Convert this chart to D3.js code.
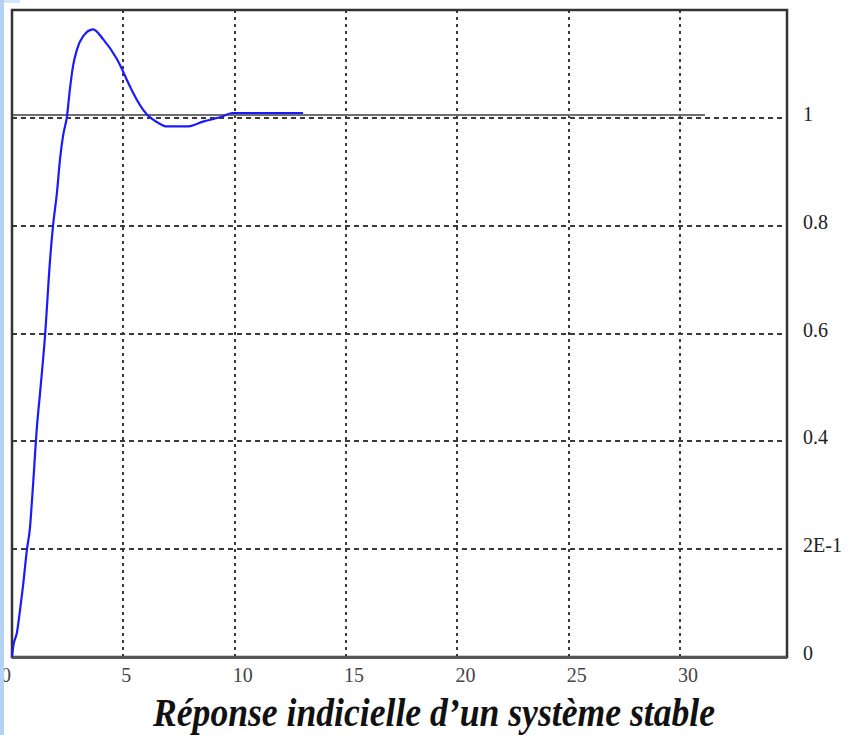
<!DOCTYPE html>
<html>
<head>
<meta charset="utf-8">
<script src="https://cdn.jsdelivr.net/npm/d3@7"></script>
<style>
  body { margin: 0; background: #fff; }
  svg { display: block; }
</style>
</head>
<body>
<div id="chart"></div>
<script>
// Step response (time, output)
var time = [0, 0.05, 0.22, 0.36, 0.49, 0.67, 0.81, 0.9, 0.94, 1.12, 1.26, 1.48, 1.71, 1.84, 2.02, 2.16, 2.29, 2.47,
            2.6, 2.74, 2.92, 3.19, 3.64, 4.09, 4.71, 5.3, 5.43, 6.06, 6.51, 6.96, 7.86, 8.58, 9.34, 9.9, 13.07];
var response = [0, 0.019, 0.045, 0.087, 0.13, 0.199, 0.241, 0.292, 0.316, 0.427, 0.49, 0.594, 0.737, 0.799, 0.862, 0.925, 0.966, 1.003,
                1.053, 1.096, 1.127, 1.151, 1.164, 1.146, 1.109, 1.058, 1.047, 1.006, 0.992, 0.984, 0.984, 0.993, 1.001, 1.009, 1.009];

// setpoint line
var setpointTime = [0, 31.1];
var setpointValue = [1.005, 1.005];

var xTicks = [0, 5, 10, 15, 20, 25, 30];
var yTicks = [0, 0.2, 0.4, 0.6, 0.8, 1];
var yTickLabels = ["0", "2E-1", "0.4", "0.6", "0.8", "1"];
var title = "Réponse indicielle d\u2019un système stable";

var width = 851, height = 735;

var svg = d3.select("#chart")
            .append("svg")
            .attr("width", width)
            .attr("height", height);

var x = d3.scaleLinear().domain([0, 34.8]).range([12, 787]);
var y = d3.scaleLinear().domain([0, 1.2]).range([657, 10]);

// vertical grid
svg.append("g")
   .selectAll("line")
   .data(xTicks.filter(function(d) { return d > 0; }))
   .enter()
   .append("line")
   .attr("x1", function(d) { return Math.round(x(d)); })
   .attr("x2", function(d) { return Math.round(x(d)); })
   .attr("y1", y(1.2))
   .attr("y2", y(0))
   .attr("stroke", "#3a3a3a")
   .attr("stroke-width", 2)
   .attr("shape-rendering", "crispEdges")
   .attr("stroke-dasharray", "3,4");

// setpoint line (under the dashes)
svg.append("path")
   .datum(setpointTime.map(function(t, i) { return [t, setpointValue[i]]; }))
   .attr("fill", "none")
   .attr("stroke", "#6f6f6f")
   .attr("stroke-width", 2)
   .attr("shape-rendering", "crispEdges")
   .attr("d", d3.line()
                .x(function(d) { return x(d[0]); })
                .y(function(d) { return Math.round(y(d[1])); }));

// horizontal grid
svg.append("g")
   .selectAll("line")
   .data(yTicks.filter(function(d) { return d > 0; }))
   .enter()
   .append("line")
   .attr("x1", x(0))
   .attr("x2", x(34.8))
   .attr("y1", function(d) { return Math.round(y(d)); })
   .attr("y2", function(d) { return Math.round(y(d)); })
   .attr("stroke", "#3a3a3a")
   .attr("stroke-width", 2)
   .attr("shape-rendering", "crispEdges")
   .attr("stroke-dasharray", "5,4");

// frame
svg.append("rect")
   .attr("x", x(0))
   .attr("y", y(1.2))
   .attr("width", x(34.8) - x(0))
   .attr("height", y(0) - y(1.2))
   .attr("fill", "none")
   .attr("stroke", "#333")
   .attr("stroke-width", 2.5);

svg.append("line")
   .attr("x1", x(0)).attr("x2", x(34.8))
   .attr("y1", y(0) + 0.5).attr("y2", y(0) + 0.5)
   .attr("stroke", "#555")
   .attr("stroke-width", 3);

// response curve
svg.append("path")
   .datum(time.map(function(t, i) { return [t, response[i]]; }))
   .attr("fill", "none")
   .attr("stroke", "#1a1aff")
   .attr("stroke-width", 2.2)
   .attr("d", d3.line()
                .curve(d3.curveMonotoneX)
                .x(function(d) { return x(d[0]); })
                .y(function(d) { return y(d[1]); }));

// x tick labels
svg.append("g")
   .selectAll("text")
   .data(xTicks)
   .enter()
   .append("text")
   .attr("x", function(d, i) { return i === 0 ? x(d) - 11 : x(d) - 2; })
   .attr("y", 682)
   .attr("font-family", "Liberation Serif, serif")
   .attr("font-size", 20)
   .attr("fill", "#444")
   .text(function(d) { return d; });

// y tick labels on the right
svg.append("g")
   .selectAll("text")
   .data(yTicks)
   .enter()
   .append("text")
   .attr("x", 803)
   .attr("y", function(d) { return y(d) + 3; })
   .attr("font-family", "Liberation Serif, serif")
   .attr("font-size", 20)
   .attr("fill", "#222")
   .text(function(d, i) { return yTickLabels[i]; });

// title
svg.append("text")
   .attr("x", 434)
   .attr("y", 726)
   .attr("text-anchor", "middle")
   .attr("font-family", "Liberation Serif, serif")
   .attr("font-weight", "bold")
   .attr("font-style", "italic")
   .attr("font-size", 40)
   .attr("textLength", 562)
   .attr("lengthAdjust", "spacingAndGlyphs")
   .attr("fill", "#111")
   .text(title);

// light blue page edge
svg.append("rect")
   .attr("x", 0).attr("y", 0)
   .attr("width", 20).attr("height", 3)
   .attr("fill", "#d4e6fb");
svg.append("rect")
   .attr("x", 0).attr("y", 0)
   .attr("width", 4).attr("height", height)
   .attr("fill", "#b4d2f4");
</script>
</body>
</html>
